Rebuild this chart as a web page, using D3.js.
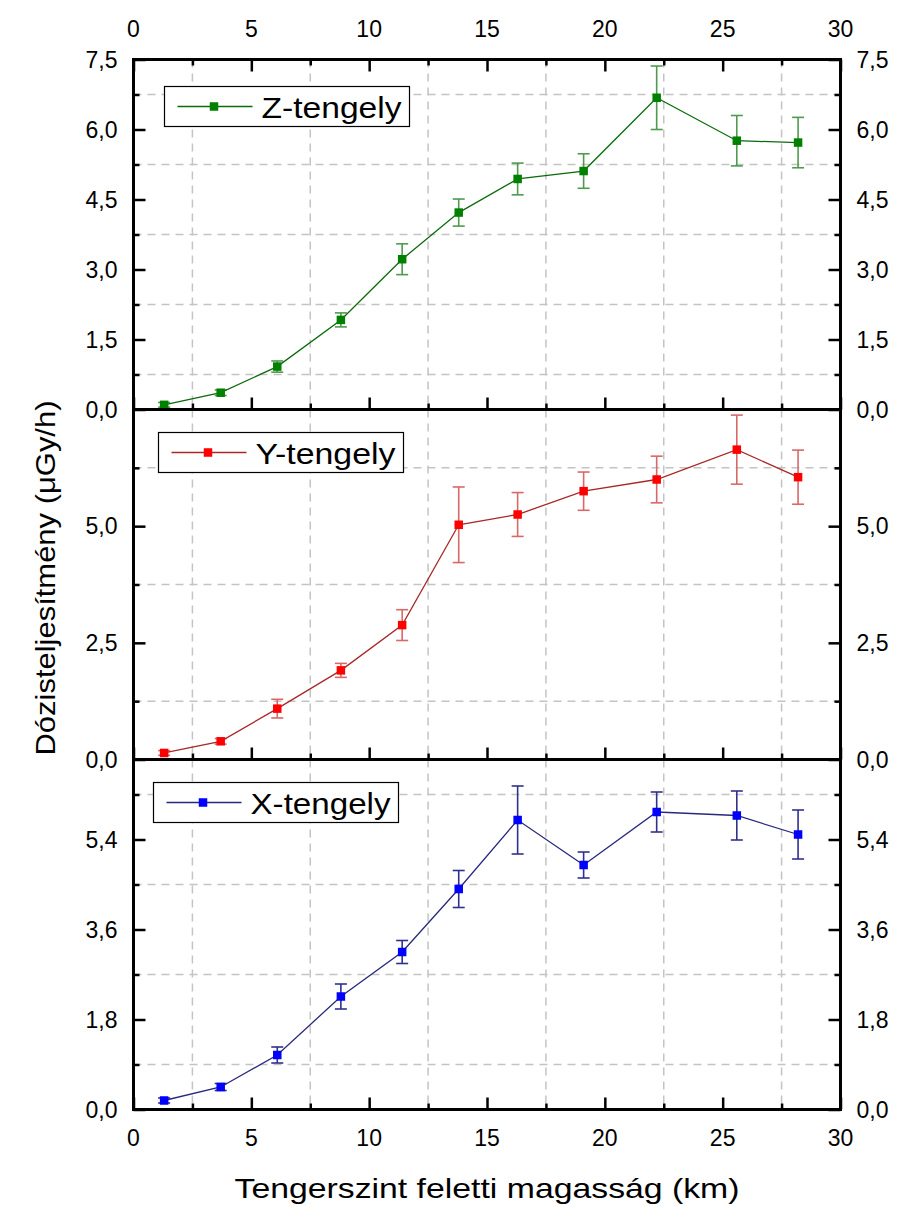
<!DOCTYPE html>
<html>
<head>
<meta charset="utf-8">
<script src="https://cdn.jsdelivr.net/npm/d3@7"></script>
<style>
  html, body { margin: 0; padding: 0; background: #fff; }
  svg { display: block; font-family: "Liberation Sans", Arial, sans-serif; }
</style>
</head>
<body>
<svg id="chart" width="898" height="1207"></svg>
<script>
// Altitude above sea level (km) of each measurement
const altitude = [1.3, 3.7, 6.1, 8.8, 11.4, 13.8, 16.3, 19.1, 22.2, 25.6, 28.2];

// Dose rate (µGy/h) and its uncertainty per detector axis
const zDose = [0.10, 0.36, 0.92, 1.92, 3.22, 4.22, 4.94, 5.11, 6.68, 5.76, 5.72];
const zErr  = [0.05, 0.06, 0.12, 0.15, 0.33, 0.29, 0.34, 0.37, 0.68, 0.54, 0.54];
const yDose = [0.14, 0.39, 1.09, 1.91, 2.88, 5.03, 5.25, 5.75, 6.00, 6.64, 6.05];
const yErr  = [0.05, 0.06, 0.20, 0.15, 0.33, 0.81, 0.47, 0.41, 0.50, 0.74, 0.58];
const xDose = [0.18, 0.45, 1.09, 2.26, 3.15, 4.41, 5.79, 4.89, 5.95, 5.88, 5.50];
const xErr  = [0.05, 0.07, 0.16, 0.25, 0.23, 0.37, 0.68, 0.26, 0.40, 0.49, 0.49];

// Axis ticks
const xTicks = [0, 5, 10, 15, 20, 25, 30];
const xMinor = [2.5, 7.5, 12.5, 17.5, 22.5, 27.5];
const zTicks = [0, 1.5, 3.0, 4.5, 6.0, 7.5];
const zMinor = [0.75, 2.25, 3.75, 5.25, 6.75];
const yTicks = [0, 2.5, 5.0];
const yMinor = [1.25, 3.75, 6.25];
const xaTicks = [0, 1.8, 3.6, 5.4];
const xaMinor = [0.9, 2.7, 4.5, 6.3];

const panelDefs = [
  { name: "Z-tengely", dose: zDose, err: zErr, max: 7.5, ticks: zTicks, minor: zMinor,
    marker: "#008000", line: "#0b6b0b", bar: "#4f9a4f", legendX: 164.5, legendY: 27 },
  { name: "Y-tengely", dose: yDose, err: yErr, max: 7.5, ticks: yTicks, minor: yMinor,
    marker: "#ff0000", line: "#a82828", bar: "#d96868", legendX: 158.5, legendY: 23 },
  { name: "X-tengely", dose: xDose, err: xErr, max: 7.0, ticks: xaTicks, minor: xaMinor,
    marker: "#0000ff", line: "#28287e", bar: "#30308e", legendX: 153.5, legendY: 23 }
];

const svg = d3.select("#chart");
const left = 133.5, right = 840.5;
const top0 = 59.5, panelH = 350;
const fmt = v => d3.format(".1f")(v).replace(".", ",");

const x = d3.scaleLinear().domain([0, 30]).range([left, right]);

const tickFont = 23;

panelDefs.forEach((p, i) => {
  const pTop = top0 + i * panelH;
  const pBot = pTop + panelH;
  const y = d3.scaleLinear().domain([0, p.max]).range([pBot, pTop]);
  const g = svg.append("g");

  // dashed grid on minor positions
  g.selectAll(".vgrid").data(xMinor).join("line")
    .attr("x1", d => x(d)).attr("x2", d => x(d))
    .attr("y1", pTop).attr("y2", pBot)
    .attr("stroke", "#c4c4c4").attr("stroke-width", 1.5).attr("stroke-dasharray", "8,6");
  g.selectAll(".hgrid").data(p.minor).join("line")
    .attr("x1", left).attr("x2", right)
    .attr("y1", d => y(d)).attr("y2", d => y(d))
    .attr("stroke", "#c4c4c4").attr("stroke-width", 1.5).attr("stroke-dasharray", "8,6");

  // left / right axes with inward ticks
  const yl = d3.axisRight(y).tickValues(p.ticks).tickSize(12).tickFormat("");
  const yr = d3.axisLeft(y).tickValues(p.ticks).tickSize(12).tickFormat("");
  const ylm = d3.axisRight(y).tickValues(p.minor).tickSize(6).tickFormat("");
  const yrm = d3.axisLeft(y).tickValues(p.minor).tickSize(6).tickFormat("");
  [[yl, left], [ylm, left], [yr, right], [yrm, right]].forEach(([ax, pos]) => {
    const a = g.append("g").attr("transform", `translate(${pos},0)`).call(ax);
    a.select(".domain").remove();
    a.selectAll("line").attr("stroke", "#000").attr("stroke-width", 2.5);
  });

  // bottom axis (ticks pointing up into the panel)
  const xb = d3.axisTop(x).tickValues(xTicks).tickSize(12).tickFormat("");
  const xbm = d3.axisTop(x).tickValues(xMinor).tickSize(6).tickFormat("");
  [xb, xbm].forEach(ax => {
    const a = g.append("g").attr("transform", `translate(0,${pBot})`).call(ax);
    a.select(".domain").remove();
    a.selectAll("line").attr("stroke", "#000").attr("stroke-width", 2.5);
  });
  if (i === 0) {
    const xt = d3.axisBottom(x).tickValues(xTicks).tickSize(12).tickFormat("");
    const xtm = d3.axisBottom(x).tickValues(xMinor).tickSize(6).tickFormat("");
    [xt, xtm].forEach(ax => {
      const a = g.append("g").attr("transform", `translate(0,${pTop})`).call(ax);
      a.select(".domain").remove();
      a.selectAll("line").attr("stroke", "#000").attr("stroke-width", 2.5);
    });
  }

  // tick labels on both sides
  const labelVals = p.ticks.filter(v => i === 0 || v < p.max);
  g.selectAll(".ll").data(labelVals).join("text")
    .attr("x", left - 16).attr("y", d => y(d) + 8.3)
    .attr("text-anchor", "end").attr("font-size", tickFont).text(fmt);
  g.selectAll(".rl").data(labelVals).join("text")
    .attr("x", right + 16).attr("y", d => y(d) + 8.3)
    .attr("text-anchor", "start").attr("font-size", tickFont).text(fmt);

  // error bars
  const pts = altitude.map((a, k) => ({ a, v: p.dose[k], e: p.err[k] }));
  const eb = g.append("g").attr("stroke", p.bar).attr("stroke-width", 1.6);
  eb.selectAll(".ev").data(pts).join("line")
    .attr("x1", d => x(d.a)).attr("x2", d => x(d.a))
    .attr("y1", d => y(d.v - d.e)).attr("y2", d => y(d.v + d.e));
  eb.selectAll(".et").data(pts).join("line")
    .attr("x1", d => x(d.a) - 6).attr("x2", d => x(d.a) + 6)
    .attr("y1", d => y(d.v + d.e)).attr("y2", d => y(d.v + d.e));
  eb.selectAll(".eb").data(pts).join("line")
    .attr("x1", d => x(d.a) - 6).attr("x2", d => x(d.a) + 6)
    .attr("y1", d => y(d.v - d.e)).attr("y2", d => y(d.v - d.e));

  // connecting line
  g.append("path").datum(pts)
    .attr("fill", "none").attr("stroke", p.line).attr("stroke-width", 1.3)
    .attr("d", d3.line().x(d => x(d.a)).y(d => y(d.v)));

  // square markers
  g.selectAll(".mk").data(pts).join("rect")
    .attr("x", d => x(d.a) - 4.25).attr("y", d => y(d.v) - 4.25)
    .attr("width", 8.5).attr("height", 8.5).attr("fill", p.marker);

  // legend
  const lg = g.append("g").attr("transform", `translate(${p.legendX},${pTop + p.legendY})`);
  lg.append("rect").attr("width", 245).attr("height", 40)
    .attr("fill", "#fff").attr("stroke", "#000").attr("stroke-width", 1.2);
  lg.append("line").attr("x1", 13).attr("x2", 88).attr("y1", 20).attr("y2", 20)
    .attr("stroke", p.line).attr("stroke-width", 1.3);
  lg.append("rect").attr("x", 45.25).attr("y", 15.75).attr("width", 8.5).attr("height", 8.5)
    .attr("fill", p.marker);
  lg.append("text").attr("x", 97).attr("y", 31).attr("font-size", 29)
    .attr("textLength", 140).attr("lengthAdjust", "spacingAndGlyphs").text(p.name);

  // frame
  g.append("rect").attr("x", left).attr("y", pTop).attr("width", right - left).attr("height", panelH)
    .attr("fill", "none").attr("stroke", "#000").attr("stroke-width", 3);
});

// x tick labels, top and bottom
const bottomY = top0 + 3 * panelH;
svg.selectAll(".xtl").data(xTicks).join("text")
  .attr("x", d => x(d)).attr("y", 37).attr("text-anchor", "middle")
  .attr("font-size", tickFont).text(d => d);
svg.selectAll(".xbl").data(xTicks).join("text")
  .attr("x", d => x(d)).attr("y", bottomY + 36).attr("text-anchor", "middle")
  .attr("font-size", tickFont).text(d => d);

// axis titles
svg.append("text").attr("x", (left + right) / 2).attr("y", 1198)
  .attr("text-anchor", "middle").attr("font-size", 28)
  .attr("textLength", 505).attr("lengthAdjust", "spacingAndGlyphs")
  .text("Tengerszint feletti magasság (km)");
svg.append("text").attr("transform", `translate(55,578) rotate(-90)`)
  .attr("text-anchor", "middle").attr("font-size", 28)
  .attr("textLength", 355).attr("lengthAdjust", "spacingAndGlyphs")
  .text("Dózisteljesítmény (μGy/h)");
</script>
</body>
</html>
